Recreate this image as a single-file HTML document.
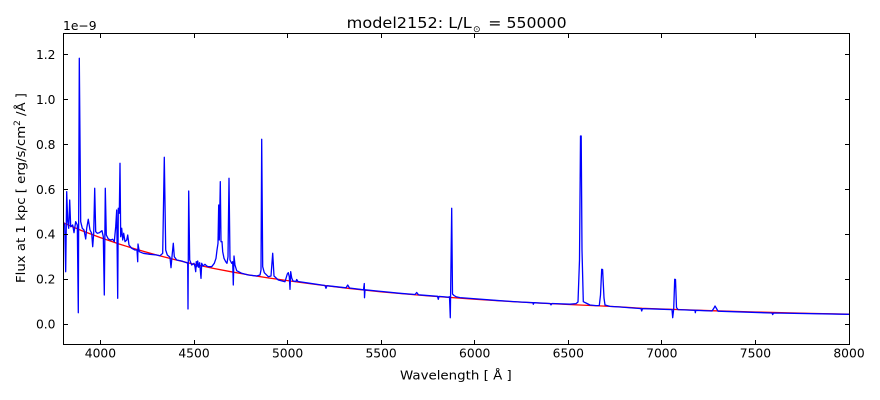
<!DOCTYPE html>
<html><head><meta charset="utf-8"><style>
html,body{margin:0;padding:0;background:#fff;}
svg{display:block;font-family:"DejaVu Sans","Liberation Sans",sans-serif;}
</style></head><body>
<svg width="880" height="400" viewBox="0 0 880 400" xmlns="http://www.w3.org/2000/svg">
<rect x="0" y="0" width="880" height="400" fill="#fff"/>
<defs><clipPath id="c"><rect x="63.5" y="33.5" width="786" height="311"/></clipPath></defs>
<g clip-path="url(#c)" fill="none" stroke-linejoin="round">
<polyline stroke="#ff0000" stroke-width="1.3" points="63,222.7 81.7,230.6 100.4,237.6 119.1,244 137.9,249.8 156.6,255 175.3,259.8 194,264.2 212.7,268.2 231.4,271.8 250.1,275.1 268.8,278 287.6,280.6 300,282.4 320,285 348,288.3 381.1,291.8 400,293.5 427.9,295.9 474.7,299.2 500,300.9 540,303.1 568.3,304.5 602,306 620,306.9 642,308.3 661.8,309 715,310.8 755.4,312 810,313.4 849,314.2"/>
<path stroke="#0000ff" stroke-width="1.3" d="M63.3,221.7 L64.7,225 L65.7,271.7 L66.7,191.7 L67.7,221.7 L68.7,228.3 L69.7,200 L70.7,226.7 L72.7,225 L74,232.7 L75.7,221.7 L77.3,225 L78.3,312.7 L79.3,58.3 L80.7,221.7 L82.3,228.3 L84,230 L85.7,239 L86.7,228.3 L88.3,219.3 L90,230 L91.7,233.3 L92.7,246.7 L93.7,233.3 L94.7,188.3 L95.7,231.7 L97.3,233.3 L99.3,232.7 L100.7,231.7 L102,230.7 L103.3,236.7 L104.3,295 L105.3,188.3 L106.3,235 L108.3,239 L110.7,240 L112.7,239.3 L114.3,241.7 L115.7,226.7 L116.7,210 L117.7,298.3 L118.3,208.3 L119.3,213.3 L120,163.3 L120.7,236.7 L121.7,228.3 L122.7,240 L123.7,233.3 L125,241.7 L126.7,240 L127.7,235 L129,245 L131.7,248.3 L135,250 L137,250 L137.7,261.7 L138,244 L139.3,251.7 L143.3,253.3 L150,254.3 L156.7,255 L160,255.7 L162.7,253.3 L164.3,157.3 L165.7,250 L167.3,255 L170,257.3 L171,267.7 L172.3,253.3 L173.3,243.3 L174.3,256.7 L176.7,260 L181.7,261 L186.7,262.7 L187.7,263.3 L188,309 L188.7,191 L189.7,260 L191.7,265 L194,263.3 L195,266.7 L195.7,271.7 L196.3,261.7 L197,266.7 L197.7,261 L198.7,267.3 L199.7,262.7 L201,278.3 L201.7,263.3 L203,266 L205,264.3 L206.7,266 L208.3,266.7 L211.7,266.7 L214.3,263.3 L216,258.3 L217,250 L218,243.3 L218.7,205 L219.3,240 L220.3,181.7 L221,241.7 L222,241.7 L222.7,251.7 L224,258.3 L225.7,261.7 L227,263.3 L228,256.7 L229,178.3 L230,260 L231.7,263.3 L232.7,261.7 L233.3,285 L234,256 L235,265 L236.7,270.7 L241.7,273.3 L248.3,275 L256.7,276 L260,275 L261,270 L261.7,139.3 L262.7,266.7 L264.3,272.7 L268.3,276.7 L271,276 L272.7,253.3 L274,276 L278.3,280 L285,281.7 L287.3,274 L288.3,272.7 L289.3,276.7 L290,289.3 L290.7,271.7 L291.7,278 L293,281 L296,281.5 L296.7,279.5 L298,281.5 L310,283.3 L325,285.5 L326,288.3 L327,285.7 L346,287.8 L347.7,285 L349.5,288 L363.5,289.8 L364.3,283.5 L364.5,297.7 L365,289.8 L400,293.3 L415,294.5 L416.7,292.5 L418.5,294.8 L437.5,296.3 L438.3,299.3 L439,296.4 L448,297.2 L449.5,296.8 L450.3,317.7 L451.7,208.3 L452.5,294 L454,295.5 L456,296.7 L460,297.6 L470,298.4 L500,300.7 L520,302 L533,302.7 L533.3,304.3 L534,302.7 L550,303.5 L551,304.8 L552,303.5 L570,304.2 L576,303.6 L578,302 L579.5,260 L580.5,136 L581.2,136 L582,250 L583.3,301.7 L586,303 L590,305 L596,305.6 L599.3,305.5 L600.5,295 L601.7,269.3 L602.6,269.5 L604,298 L605,305 L610,306.4 L620,307 L641,308.6 L641.7,311 L642.5,308.6 L660,309.2 L672,309.6 L672.7,317.7 L673.7,309 L674.7,279.3 L675.5,279.5 L676.5,307.5 L678,309.6 L690,310.1 L695,310.3 L695.3,312.7 L695.8,310.3 L712,311 L714,308 L715,306 L716.5,308.5 L718,311.2 L772,313 L772.7,314.6 L773.5,313 L849,314.3"/>
</g>
<g stroke="#000" stroke-width="1" fill="none" shape-rendering="crispEdges">
<rect x="63.5" y="33.5" width="786" height="311"/>
<path d="M100.5,344V340M194.5,344V340M287.5,344V340M381.5,344V340M474.5,344V340M568.5,344V340M661.5,344V340M755.5,344V340
M100.5,34V38M194.5,34V38M287.5,34V38M381.5,34V38M474.5,34V38M568.5,34V38M661.5,34V38M755.5,34V38
M64,324.5H68M64,279.5H68M64,234.5H68M64,189.5H68M64,144.5H68M64,99.5H68M64,54.5H68
M849,324.5H845M849,279.5H845M849,234.5H845M849,189.5H845M849,144.5H845M849,99.5H845M849,54.5H845"/>
</g>
<g font-size="12.3" fill="#000" text-anchor="end">
<text x="55.5" y="328.4">0.0</text>
<text x="55.5" y="283.5">0.2</text>
<text x="55.5" y="238.7">0.4</text>
<text x="55.5" y="193.8">0.6</text>
<text x="55.5" y="149">0.8</text>
<text x="55.5" y="104.1">1.0</text>
<text x="55.5" y="59.2">1.2</text>
</g>
<g font-size="12.3" fill="#000" text-anchor="middle">
<text x="100.4" y="357.7">4000</text>
<text x="194" y="357.7">4500</text>
<text x="287.6" y="357.7">5000</text>
<text x="381.1" y="357.7">5500</text>
<text x="474.7" y="357.7">6000</text>
<text x="568.3" y="357.7">6500</text>
<text x="661.8" y="357.7">7000</text>
<text x="755.4" y="357.7">7500</text>
<text x="849" y="357.7">8000</text>
</g>
<text x="63" y="30" font-size="12.3" fill="#000">1e−9</text>
<text x="346.7" y="28" font-size="15" fill="#000" textLength="125" lengthAdjust="spacingAndGlyphs">model2152: L/L</text>
<text x="476.8" y="31.8" font-size="9" fill="#000" text-anchor="middle">⊙</text>
<text x="488.3" y="28" font-size="15" fill="#000" textLength="78.3" lengthAdjust="spacingAndGlyphs">= 550000</text>
<text x="400" y="379.3" font-size="12.8" fill="#000" textLength="111.7" lengthAdjust="spacingAndGlyphs">Wavelength [ Å ]</text>
<g transform="translate(25,283) rotate(-90)">
<text x="0" y="0" font-size="12.8" fill="#000" textLength="190" lengthAdjust="spacingAndGlyphs">Flux at 1 kpc [ erg/s/cm<tspan font-size="8.5" dy="-5">2</tspan><tspan dy="5"> /Å ]</tspan></text>
</g>
</svg>
</body></html>
